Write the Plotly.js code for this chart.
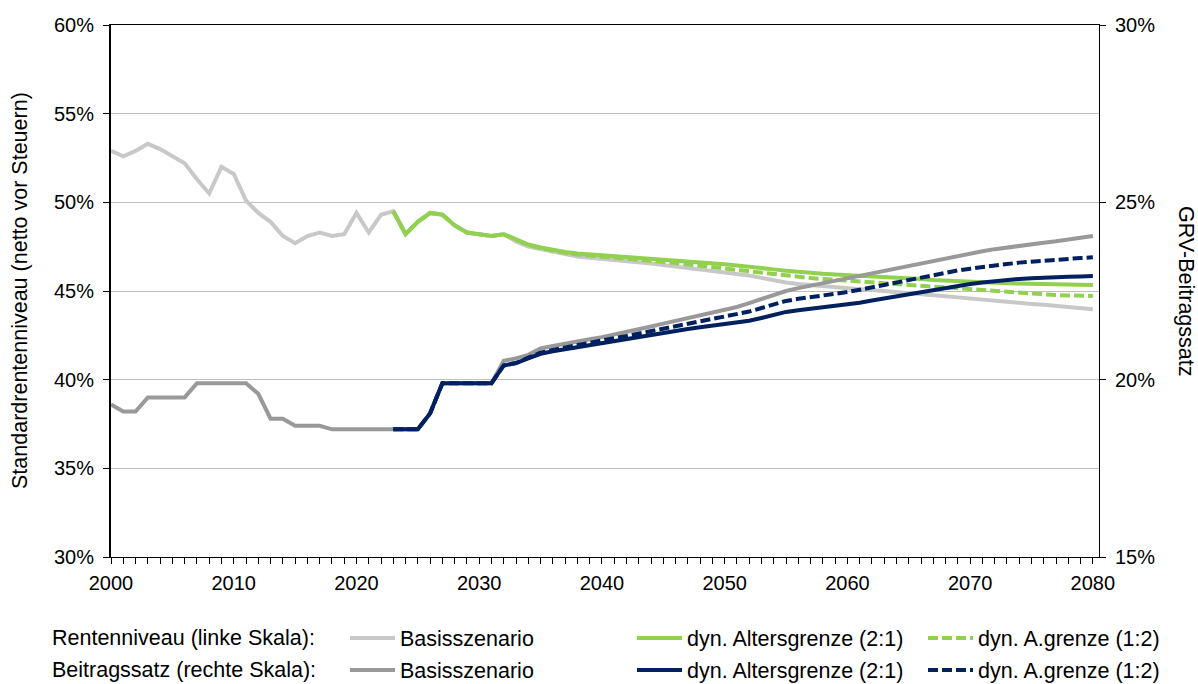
<!DOCTYPE html>
<html>
<head>
<meta charset="utf-8">
<script src="https://cdn.plot.ly/plotly-3.0.1.min.js"></script>
<style>html,body{margin:0;padding:0;background:#fff;}#chart{width:1198px;height:684px;}</style>
</head>
<body>
<div id="chart"></div>
<script>
var firstYear = 2000, lastYear = 2080, dynStart = 2023;
var years = [];
for (var y = firstYear; y <= lastYear; y++) years.push(y);
var dynYears = years.filter(function (v) { return v >= dynStart; });

var renteBasis = [52.9, 52.6, 52.9, 53.3, 53.0, 52.6, 52.2, 51.3, 50.5, 52.0,
  51.6, 50.1, 49.4, 48.9, 48.1, 47.7, 48.1, 48.3, 48.1, 48.2,
  49.4, 48.3, 49.3, 49.5, 48.2, 48.9, 49.4, 49.3, 48.7, 48.3,
  48.2, 48.1, 48.2, 47.8, 47.5, 47.35, 47.2, 47.05, 46.95, 46.88,
  46.82, 46.76, 46.7, 46.63, 46.55, 46.46, 46.38, 46.29, 46.2, 46.12,
  46.04, 45.96, 45.87, 45.74, 45.6, 45.48, 45.4, 45.33, 45.27, 45.2,
  45.15, 45.1, 45.05, 45.0, 44.94, 44.88, 44.82, 44.76, 44.7, 44.64,
  44.57, 44.5, 44.44, 44.38, 44.32, 44.27, 44.22, 44.16, 44.1, 44.04,
  43.97];
var renteDyn21 = [49.5, 48.2, 48.9, 49.4, 49.3, 48.7, 48.3, 48.2, 48.1, 48.2,
  47.9, 47.62, 47.45, 47.31, 47.2, 47.12, 47.07, 47.03, 46.99, 46.95,
  46.91, 46.86, 46.8, 46.74, 46.68, 46.62, 46.57, 46.51, 46.44, 46.38,
  46.3, 46.22, 46.14, 46.07, 46.01, 45.97, 45.93, 45.9, 45.87, 45.84,
  45.8, 45.76, 45.71, 45.67, 45.62, 45.58, 45.55, 45.52, 45.49, 45.46,
  45.44, 45.42, 45.4, 45.38, 45.37, 45.36, 45.35, 45.34];
var renteDyn12 = [49.5, 48.2, 48.9, 49.4, 49.3, 48.7, 48.3, 48.2, 48.1, 48.2,
  47.88, 47.6, 47.42, 47.27, 47.15, 47.06, 47.0, 46.95, 46.9, 46.85,
  46.8, 46.74, 46.67, 46.58, 46.5, 46.42, 46.35, 46.28, 46.2, 46.1,
  46.0, 45.92, 45.85, 45.78, 45.73, 45.68, 45.63, 45.6, 45.56, 45.5,
  45.45, 45.4, 45.36, 45.32, 45.27, 45.22, 45.17, 45.12, 45.06, 45.0,
  44.93, 44.88, 44.84, 44.8, 44.77, 44.75, 44.73, 44.72];
var beitragBasis = [19.3, 19.1, 19.1, 19.5, 19.5, 19.5, 19.5, 19.9, 19.9, 19.9,
  19.9, 19.9, 19.6, 18.9, 18.9, 18.7, 18.7, 18.7, 18.6, 18.6,
  18.6, 18.6, 18.6, 18.6, 18.6, 18.6, 19.05, 19.9, 19.9, 19.9,
  19.9, 19.9, 20.53, 20.6, 20.7, 20.88, 20.95, 21.02, 21.08, 21.14,
  21.2, 21.27, 21.34, 21.42, 21.5, 21.58, 21.66, 21.73, 21.81, 21.89,
  21.97, 22.05, 22.16, 22.28, 22.4, 22.5, 22.58, 22.65, 22.72, 22.79,
  22.86, 22.93, 23.0, 23.07, 23.14, 23.22, 23.29, 23.36, 23.43, 23.5,
  23.56, 23.62, 23.68, 23.73, 23.78, 23.82, 23.86, 23.9, 23.95, 24.0,
  24.05];
var beitragDyn21 = [18.6, 18.6, 18.6, 19.05, 19.9, 19.9, 19.9, 19.9, 19.9, 20.4,
  20.47, 20.6, 20.73, 20.8, 20.86, 20.91, 20.97, 21.03, 21.08, 21.14,
  21.2, 21.26, 21.32, 21.37, 21.43, 21.48, 21.53, 21.57, 21.61, 21.66,
  21.74, 21.83, 21.91, 21.96, 22.0, 22.04, 22.08, 22.12, 22.17, 22.23,
  22.29, 22.35, 22.41, 22.47, 22.53, 22.59, 22.65, 22.7, 22.74, 22.78,
  22.81, 22.84, 22.86, 22.88, 22.89, 22.9, 22.91, 22.92];
var beitragDyn12 = [18.6, 18.6, 18.6, 19.05, 19.9, 19.9, 19.9, 19.9, 19.9, 20.4,
  20.47, 20.62, 20.76, 20.84, 20.91, 20.97, 21.04, 21.1, 21.17, 21.23,
  21.3, 21.36, 21.43, 21.5, 21.57, 21.63, 21.7, 21.77, 21.84, 21.92,
  22.02, 22.12, 22.22, 22.28, 22.32, 22.37, 22.42, 22.47, 22.53, 22.6,
  22.67, 22.74, 22.81, 22.88, 22.95, 23.02, 23.08, 23.13, 23.18, 23.22,
  23.26, 23.3, 23.33, 23.36, 23.38, 23.41, 23.43, 23.45];

var seriesNames = ['Basisszenario', 'dyn. Altersgrenze (2:1)', 'dyn. A.grenze (1:2)'];
var rowLabels = ['Rentenniveau (linke Skala):', 'Beitragssatz (rechte Skala):'];
var yLeftTitle = 'Standardrentenniveau (netto vor Steuern)';
var yRightTitle = 'GRV-Beitragssatz';

var cLight = '#c8c8c8', cDark = '#999999', cGreen = '#92d050', cNavy = '#002060';
var LW = 4, DASH = '10px,4px';
var FONT = '"Liberation Sans", Arial, sans-serif';
var FS_TICK = 20, FS_TEXT = 21.5;

function tr(x, y, axis, name, color, dash, legend) {
  return {x: x, y: y, yaxis: axis, name: name, type: 'scatter', mode: 'lines',
    line: {color: color, width: LW, dash: dash || 'solid'}, legend: legend, hoverinfo: 'skip'};
}

var data = [
  tr(years, renteBasis, 'y', seriesNames[0], cLight, null, 'legend'),
  tr(years, beitragBasis, 'y2', seriesNames[0], cDark, null, 'legend4'),
  tr(dynYears, renteDyn21, 'y', seriesNames[1], cGreen, null, 'legend2'),
  tr(dynYears, renteDyn12, 'y', seriesNames[2], cGreen, DASH, 'legend3'),
  tr(dynYears, beitragDyn21, 'y2', seriesNames[1], cNavy, null, 'legend5'),
  tr(dynYears, beitragDyn12, 'y2', seriesNames[2], cNavy, DASH, 'legend6')
];

var L = 111, R = 99, T = 25, B = 127, W = 1198, H = 684;

function leg(xpx, ypx) {
  return {orientation: 'h', xref: 'container', yref: 'container',
    x: xpx / W, xanchor: 'left', y: (H - ypx) / H, yanchor: 'middle',
    font: {family: FONT, size: FS_TEXT, color: '#000'}, bgcolor: 'rgba(0,0,0,0)', itemwidth: 45,
    traceorder: 'normal'};
}
function note(text, xpx, ypx, xanchor, angle) {
  return {text: text, xref: 'paper', yref: 'paper',
    x: (xpx - L) / (W - L - R), y: (H - B - ypx) / (H - T - B),
    xanchor: xanchor, yanchor: 'middle', textangle: angle || 0, showarrow: false,
    font: {family: FONT, size: FS_TEXT, color: '#000'}};
}
var row1 = 638, row2 = 670;
var col1 = 345, col2 = 632, col3 = 923;

var layout = {
  width: W, height: H,
  margin: {l: L, r: R, t: T, b: B, pad: 0},
  paper_bgcolor: '#fff', plot_bgcolor: '#fff',
  font: {family: FONT, size: FS_TICK, color: '#000'},
  showlegend: true,
  legend: leg(col1, row1), legend2: leg(col2, row1), legend3: leg(col3, row1),
  legend4: leg(col1, row2), legend5: leg(col2, row2), legend6: leg(col3, row2),
  xaxis: {range: [2000, 2080.5], tickmode: 'linear', tick0: 2000, dtick: 10,
    ticks: 'outside', ticklen: 6, tickwidth: 1, tickcolor: '#000', ticklabelstandoff: 2,
    minor: {dtick: 1, tick0: 2000, ticks: 'outside', ticklen: 6, tickwidth: 1, tickcolor: '#000', showgrid: false},
    showline: true, linecolor: '#000', linewidth: 1, mirror: true, showgrid: false, zeroline: false,
    tickfont: {family: FONT, size: FS_TICK, color: '#000'}, fixedrange: true, automargin: false},
  yaxis: {range: [30, 60], tickmode: 'linear', tick0: 30, dtick: 5, ticksuffix: '%',
    ticks: 'outside', ticklen: 6, tickcolor: '#000', ticklabelstandoff: 5,
    showline: true, linecolor: '#000', linewidth: 2,
    showgrid: true, gridcolor: '#bfbfbf', gridwidth: 1, zeroline: false,
    tickfont: {family: FONT, size: FS_TICK, color: '#000'}, fixedrange: true, automargin: false},
  yaxis2: {range: [15, 30], tickmode: 'linear', tick0: 15, dtick: 5, ticksuffix: '%', overlaying: 'y', side: 'right',
    ticks: 'outside', ticklen: 6, tickcolor: '#000', ticklabelstandoff: 5,
    showline: true, linecolor: '#000', linewidth: 1,
    showgrid: false, zeroline: false, tickfont: {family: FONT, size: FS_TICK, color: '#000'}, fixedrange: true, automargin: false},
  annotations: [
    note(rowLabels[0], 50, row1, 'left'),
    note(rowLabels[1], 50, row2, 'left'),
    note(yLeftTitle, 20, 291, 'center', -90),
    note(yRightTitle, 1186, 291, 'center', 90)
  ]
};

Plotly.newPlot('chart', data, layout, {displayModeBar: false, responsive: false});
</script>
</body>
</html>
